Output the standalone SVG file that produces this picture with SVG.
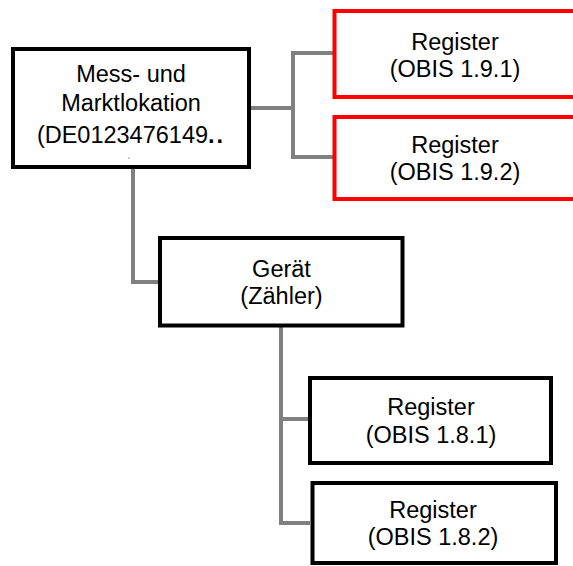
<svg xmlns="http://www.w3.org/2000/svg" width="573" height="566" viewBox="0 0 573 566">
<style>
.box{fill:#fff;stroke:#000;stroke-width:4}
.red{fill:#fff;stroke:#ff0000;stroke-width:4}
.conn{fill:none;stroke:#808080;stroke-width:4;stroke-linejoin:miter}
text{font-family:"Liberation Sans",Arial,sans-serif;font-size:23.5px;fill:#000;text-anchor:middle}
</style>
<rect width="573" height="566" fill="#fff"/>
<g id="connectors">
<path class="conn" d="M251 108 H293"/>
<path class="conn" d="M333 53 H293 V157 H333"/>
<path class="conn" d="M133 169 V282 H158"/>
<path class="conn" d="M281 327 V523 H310"/>
<path class="conn" d="M281 419 H308"/>
</g>
<g id="messlokation">
<rect class="box" x="13" y="49" width="236" height="118"/>
<text x="131" y="82">Mess- und</text>
<text x="131" y="111">Marktlokation</text>
<text x="131" y="143">(DE0123476149<tspan font-weight="bold" letter-spacing="2">..</tspan></text>
<rect x="128" y="157.5" width="2" height="1" fill="#999"/>
</g>
<g id="register191">
<rect class="red" x="334.5" y="11" width="250" height="86"/>
<text x="455" y="50">Register</text>
<text x="455" y="77">(OBIS 1.9.1)</text>
</g>
<g id="register192">
<rect class="red" x="334.5" y="117" width="250" height="82"/>
<text x="455" y="153">Register</text>
<text x="455" y="180">(OBIS 1.9.2)</text>
</g>
<g id="geraet">
<rect class="box" x="160" y="238" width="242.5" height="87.5"/>
<text x="281.5" y="277">Gerät</text>
<text x="281.5" y="304">(Zähler)</text>
</g>
<g id="register181">
<rect class="box" x="310" y="378" width="241" height="85"/>
<text x="431" y="415">Register</text>
<text x="431" y="443">(OBIS 1.8.1)</text>
</g>
<g id="register182">
<rect class="box" x="312.5" y="483" width="243.5" height="80"/>
<text x="433" y="518">Register</text>
<text x="433" y="545">(OBIS 1.8.2)</text>
</g>
</svg>
